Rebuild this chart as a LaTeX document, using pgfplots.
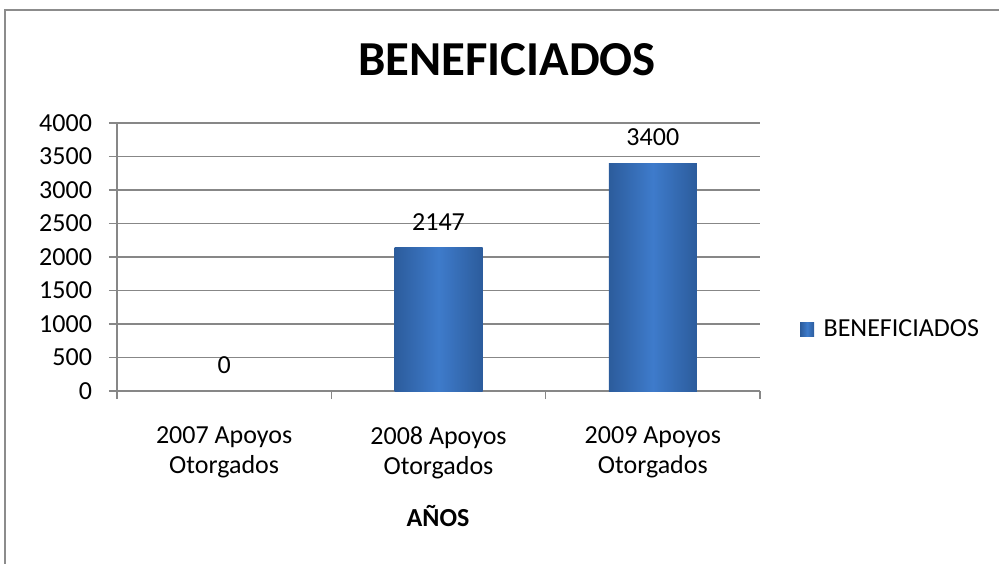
\documentclass[border=0pt]{standalone}
\usepackage{fontspec}
\setmainfont{Carlito}
\usepackage{pgfplots}
\pgfplotsset{compat=1.18}
\definecolor{gridgray}{HTML}{878787}
\definecolor{barmid}{HTML}{3E7BCB}
\definecolor{baredge}{HTML}{2C5C9C}
\definecolor{framegray}{HTML}{8C8C8C}
\begin{document}
\begin{tikzpicture}
\useasboundingbox (0pt,0pt) rectangle (499.5pt,281.5pt);
\draw[framegray, line width=1pt] (2.5pt,-1pt) -- (2.5pt,276.5pt) -- (501pt,276.5pt);
\node[font=\fontsize{24.4}{28}\selectfont\bfseries] at (253.5pt,251.5pt) {BENEFICIADOS};
\node[font=\fontsize{13}{15}\selectfont\bfseries] at (219pt,23.5pt) {AÑOS};
\begin{axis}[
  at={(58.5pt,86pt)}, anchor=south west,
  scale only axis, width=321.5pt, height=134pt,
  xmin=-0.5, xmax=2.5, ymin=0, ymax=4000,
  ytick distance=500,
  axis x line*=bottom, axis y line*=left,
  axis line style={gridgray, line width=0.6pt},
  ymajorgrids, grid style={gridgray, line width=0.6pt},
  major tick length=4pt, tick align=outside,
  tick style={gridgray, line width=0.6pt},
  xtick={-0.5,0.5,1.5,2.5}, xticklabels={},
  extra x ticks={0,1,2},
  extra x tick labels={{2007 Apoyos\\Otorgados},{2008 Apoyos\\Otorgados},{2009 Apoyos\\Otorgados}},
  extra x tick style={major tick length=0pt, grid=none, tick style={draw=none},
     xticklabel style={align=center, yshift=-14.5pt}},
  ticklabel style={font=\fontsize{13}{15}\selectfont},
  yticklabel style={xshift=-5pt},
  /pgf/number format/assume math mode=true,
  scaled y ticks=false,
  y tick label style={/pgf/number format/1000 sep={}},
  ybar, bar width=44pt, bar shift=0pt,
  nodes near coords,
  every node near coord/.append style={font=\fontsize{13}{15}\selectfont, yshift=5pt, /pgf/number format/1000 sep={}},
  legend style={at={(1.0526,0.23)}, anchor=west, draw=none, fill=none,
     font=\fontsize{13}{15}\selectfont},
  legend image code/.code={\fill[left color=baredge, right color=baredge, middle color=barmid] (0pt,-3.5pt) rectangle (7pt,3.5pt); \path (9.7pt,0pt);},
]
\addplot[draw=none, left color=baredge, right color=baredge, middle color=barmid] coordinates {(0,0)};
\addlegendentry{BENEFICIADOS}
\addplot[forget plot, draw=none, left color=baredge, right color=baredge, middle color=barmid] coordinates {(1,2147)};
\addplot[forget plot, draw=none, left color=baredge, right color=baredge, middle color=barmid] coordinates {(2,3400)};
\end{axis}
\end{tikzpicture}
\end{document}
